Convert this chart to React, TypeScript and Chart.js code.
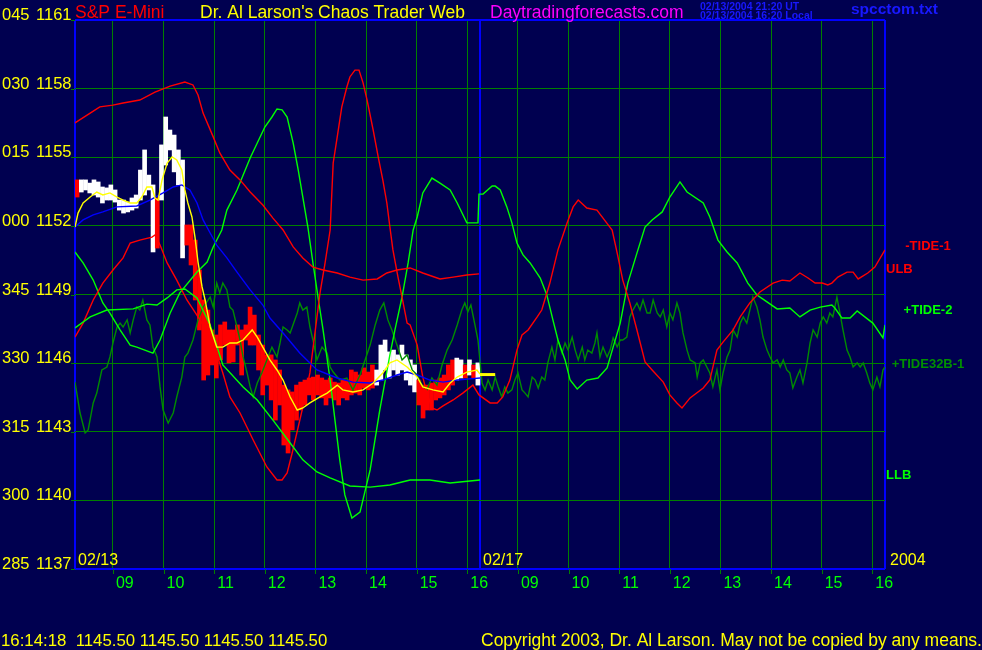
import React, { useEffect, useRef } from "react";
import { Chart, registerables } from "chart.js";

Chart.register(...registerables);

// ---------- axes ----------
const priceTicks = [1137, 1140, 1143, 1146, 1149, 1152, 1155, 1158, 1161];
const degreeLabels = ["285", "300", "315", "330", "345", "000", "015", "030", "045"];
// hours since 08:15 (day 1: 0-8, day 2: 8-16)
const xGridHours = [0, 0.75, 1.75, 2.75, 3.75, 4.75, 5.75, 6.75, 7.75, 8, 8.75, 9.75, 10.75, 11.75, 12.75, 13.75, 14.75, 15.75, 16];
const hourLabelPos = [0.75, 1.75, 2.75, 3.75, 4.75, 5.75, 6.75, 7.75, 8.75, 9.75, 10.75, 11.75, 12.75, 13.75, 14.75, 15.75];
const hourLabels = ["09", "10", "11", "12", "13", "14", "15", "16", "09", "10", "11", "12", "13", "14", "15", "16"];
const dayLabels = ["02/13", "02/17"];
const dayStart = [0, 8];
const yearLabel = "2004";

// ---------- price bars (5-minute, day 1) ----------
const barMinutes = 5;
const barLow = [
  1153.26, 1153.48, 1153.57, 1153.44, 1153.35, 1153.26, 1153.0, 1153.13, 1153.13, 1153.04,
  1152.69, 1152.56, 1152.61, 1152.69, 1152.78, 1153.13, 1153.35, 1153.57, 1150.86, 1151.03,
  1153.13, 1154.66, 1155.32, 1154.36, 1153.79, 1150.6, 1151.16, 1150.29, 1148.76, 1147.45,
  1145.26, 1145.48, 1145.92, 1145.35, 1146.14, 1146.79, 1146.01, 1146.05, 1146.79, 1145.48,
  1147.01, 1146.79, 1146.79, 1145.7, 1144.61, 1145.04, 1144.39, 1143.51, 1144.17, 1142.42,
  1142.07, 1143.08, 1143.51, 1143.95, 1144.17, 1144.61, 1144.39, 1144.61, 1144.48, 1144.17,
  1144.48, 1144.39, 1144.17, 1144.48, 1144.39, 1144.61, 1144.69, 1144.61, 1144.91, 1144.83,
  1144.91, 1145.04, 1145.26, 1145.7, 1145.35, 1145.7, 1145.48, 1145.7, 1145.26, 1145.04,
  1144.74, 1144.17, 1143.6, 1143.95, 1143.95, 1144.39, 1144.48, 1144.61, 1144.83, 1145.04,
  1145.26, 1145.35, 1145.35, 1145.48, 1145.35, 1145.04,
];
const barHigh = [
  1154.01, 1154.01, 1154.01, 1153.87, 1154.01, 1153.92, 1153.7, 1153.66, 1153.79, 1153.57,
  1153.13, 1153.13, 1153.04, 1153.22, 1153.35, 1154.44, 1155.32, 1154.22, 1153.79, 1153.22,
  1155.54, 1156.76, 1156.19, 1155.97, 1155.32, 1154.88, 1152.04, 1152.04, 1151.38, 1150.07,
  1148.76, 1148.32, 1147.45, 1147.23, 1147.67, 1147.8, 1147.45, 1147.45, 1147.67, 1147.45,
  1147.67, 1148.45, 1148.1, 1147.23, 1146.79, 1146.36, 1146.36, 1146.14, 1145.7, 1145.04,
  1144.83, 1144.74, 1145.04, 1145.17, 1145.26, 1145.35, 1145.39, 1145.48, 1145.35, 1145.26,
  1145.35, 1145.17, 1145.13, 1145.26, 1145.26, 1145.7, 1145.61, 1145.48, 1145.79, 1145.61,
  1145.92, 1145.7, 1146.79, 1147.01, 1146.49, 1146.57, 1146.36, 1146.79, 1146.36, 1146.14,
  1145.92, 1145.26, 1145.04, 1145.04, 1145.13, 1145.26, 1145.35, 1145.48, 1145.92, 1146.14,
  1146.22, 1146.14, 1145.92, 1146.14, 1145.92, 1146.01,
];
// 1 = up bar (white), 0 = down bar (red)
const barUp = [
  0, 1, 1, 1, 1, 1, 1, 1, 1, 1,
  1, 1, 1, 1, 1, 1, 1, 1, 1, 0,
  1, 1, 1, 1, 1, 1, 0, 0, 0, 0,
  0, 0, 0, 0, 0, 0, 0, 0, 0, 0,
  0, 0, 0, 0, 0, 0, 0, 0, 0, 0,
  0, 0, 0, 0, 0, 0, 0, 0, 0, 0,
  0, 0, 0, 0, 0, 0, 0, 0, 0, 0,
  0, 1, 1, 1, 1, 1, 1, 1, 1, 1,
  1, 0, 0, 0, 0, 0, 0, 0, 0, 0,
  1, 1, 0, 1, 0, 1,
];

// ---------- yellow (fast average) ----------
const fastHours = [0, 0.06, 0.16, 0.3, 0.43, 0.55, 0.69, 0.83, 0.95, 1.09, 1.22, 1.32, 1.42, 1.52, 1.58, 1.64, 1.72, 1.82, 1.92, 2.01, 2.11, 2.17, 2.23, 2.31, 2.37, 2.43, 2.51, 2.57, 2.67, 2.8, 2.92, 3.06, 3.2, 3.32, 3.5, 3.6, 3.71, 3.85, 3.99, 4.11, 4.25, 4.39, 4.5, 4.64, 4.84, 4.98, 5.18, 5.29, 5.49, 5.69, 5.89, 6.08, 6.22, 6.36, 6.56, 6.76, 6.87, 7.07, 7.27, 7.41, 7.55, 7.74, 7.94, 8.0];
const fastValues = [1151.95, 1152.56, 1153.0, 1153.26, 1153.48, 1153.35, 1153.44, 1153.26, 1153.13, 1153.0, 1153.0, 1153.26, 1153.7, 1153.7, 1153.22, 1153.13, 1154.01, 1154.75, 1155.01, 1154.88, 1154.44, 1153.57, 1153.0, 1152.39, 1151.51, 1150.42, 1149.33, 1148.76, 1147.58, 1146.7, 1146.7, 1146.88, 1146.88, 1147.01, 1147.45, 1147.14, 1146.7, 1146.14, 1145.7, 1145.26, 1144.52, 1143.95, 1144.04, 1144.26, 1144.52, 1144.69, 1145.04, 1144.83, 1144.74, 1144.83, 1145.13, 1145.57, 1146.01, 1146.14, 1145.83, 1145.39, 1144.96, 1144.83, 1144.74, 1145.13, 1145.39, 1145.61, 1145.7, 1145.52];
const lastPrice = 1145.5;
const lastPriceHours = [8.0, 8.3];

// ---------- blue (slow average) ----------
const slowHours = [0, 0.16, 0.36, 0.55, 0.83, 1.22, 1.48, 1.74, 1.94, 2.11, 2.27, 2.41, 2.53, 2.67, 2.8, 3.0, 3.2, 3.46, 3.71, 3.85, 4.11, 4.44, 4.78, 5.18, 5.49, 5.83, 6.08, 6.36, 6.56, 6.76, 7.01, 7.27, 7.55, 7.8, 8.0];
const slowValues = [1151.95, 1152.26, 1152.48, 1152.61, 1152.83, 1152.87, 1153.13, 1153.44, 1153.7, 1153.79, 1153.57, 1153.0, 1152.26, 1151.69, 1151.16, 1150.6, 1149.98, 1149.2, 1148.54, 1147.97, 1147.32, 1146.44, 1145.7, 1145.35, 1145.17, 1145.13, 1145.26, 1145.48, 1145.61, 1145.48, 1145.26, 1145.17, 1145.26, 1145.31, 1145.35];

// ---------- ULB (red upper band, day 1) ----------
const ulbHours = [0, 0.3, 0.49, 0.75, 0.95, 1.28, 1.58, 1.88, 2.17, 2.33, 2.43, 2.53, 2.73, 2.86, 3.06, 3.26, 3.46, 3.71, 3.91, 4.11, 4.31, 4.5, 4.7, 4.9, 5.18, 5.43, 5.69, 5.97, 6.16, 6.36, 6.62, 6.87, 7.21, 7.47, 7.74, 7.98];
const ulbValues = [1156.5, 1156.93, 1157.2, 1157.28, 1157.37, 1157.5, 1157.85, 1158.11, 1158.29, 1158.16, 1157.72, 1156.93, 1155.89, 1155.19, 1154.44, 1154.01, 1153.48, 1152.91, 1152.34, 1151.82, 1151.08, 1150.6, 1150.2, 1150.07, 1149.94, 1149.76, 1149.63, 1149.68, 1149.94, 1150.07, 1150.16, 1149.94, 1149.68, 1149.76, 1149.85, 1149.9];

// ---------- LLB (green lower band, day 1) ----------
const llbHours = [0, 0.3, 0.63, 1.15, 1.42, 1.62, 1.82, 2.01, 2.17, 2.41, 2.67, 2.92, 3.32, 3.6, 3.91, 4.25, 4.5, 4.78, 5.04, 5.43, 5.83, 6.22, 6.62, 7.01, 7.41, 7.8, 8.0];
const llbValues = [1147.54, 1148.02, 1148.32, 1148.37, 1148.58, 1148.54, 1148.85, 1149.2, 1149.24, 1148.85, 1147.67, 1145.92, 1144.96, 1144.39, 1143.51, 1142.51, 1141.77, 1141.24, 1140.98, 1140.63, 1140.58, 1140.67, 1140.89, 1140.89, 1140.76, 1140.85, 1140.89];

// ---------- -TIDE-1 (red) ----------
const tide1Hours = [0, 0.16, 0.36, 0.55, 0.75, 0.95, 1.09, 1.28, 1.52, 1.58, 1.68, 1.82, 2.01, 2.21, 2.47, 2.73, 2.92, 3.06, 3.26, 3.52, 3.79, 3.99, 4.09, 4.19, 4.29, 4.5, 4.64, 4.74, 4.84, 4.94, 5.04, 5.1, 5.18, 5.27, 5.37, 5.43, 5.53, 5.61, 5.69, 5.77, 5.89, 5.99, 6.08, 6.16, 6.22, 6.28, 6.38, 6.46, 6.56, 6.62, 6.76, 6.81, 6.87, 6.95, 7.05, 7.15, 7.27, 7.47, 7.66, 7.86, 7.98, 8.2, 8.34, 8.45, 8.59, 8.73, 8.83, 8.95, 9.13, 9.22, 9.38, 9.54, 9.72, 9.84, 9.94, 10.11, 10.31, 10.43, 10.61, 10.71, 10.82, 10.96, 11.1, 11.26, 11.4, 11.62, 11.75, 11.89, 11.99, 12.15, 12.41, 12.54, 12.68, 12.8, 13.0, 13.14, 13.33, 13.53, 13.79, 13.97, 14.12, 14.32, 14.48, 14.62, 14.76, 14.87, 14.95, 15.07, 15.25, 15.37, 15.47, 15.66, 15.8, 16.0];
const tide1Values = [1147.14, 1147.75, 1148.76, 1149.5, 1150.07, 1150.6, 1151.25, 1151.38, 1151.51, 1151.6, 1151.16, 1150.38, 1149.63, 1148.76, 1147.89, 1146.88, 1145.57, 1144.52, 1143.82, 1142.64, 1141.46, 1140.89, 1140.89, 1141.2, 1142.07, 1144.08, 1145.57, 1147.32, 1149.07, 1150.38, 1151.82, 1154.75, 1155.89, 1157.2, 1158.07, 1158.51, 1158.81, 1158.81, 1158.25, 1157.5, 1156.19, 1155.01, 1154.01, 1153.0, 1151.95, 1150.95, 1149.76, 1148.89, 1147.75, 1147.67, 1146.79, 1146.14, 1145.39, 1144.69, 1144.04, 1143.95, 1144.13, 1144.39, 1144.69, 1145.04, 1144.61, 1144.26, 1144.26, 1144.52, 1145.26, 1146.57, 1147.23, 1147.45, 1148.02, 1148.32, 1149.5, 1150.95, 1152.13, 1152.83, 1153.13, 1152.78, 1152.69, 1152.34, 1151.82, 1150.81, 1149.63, 1148.63, 1147.45, 1146.05, 1145.7, 1145.17, 1144.61, 1144.26, 1144.04, 1144.48, 1144.91, 1145.26, 1146.57, 1146.92, 1147.45, 1148.02, 1148.63, 1149.11, 1149.5, 1149.63, 1149.59, 1149.94, 1149.72, 1149.5, 1149.5, 1149.42, 1149.5, 1149.76, 1149.98, 1149.98, 1149.68, 1149.94, 1150.2, 1150.95];

// ---------- +TIDE-2 (bright green) ----------
const tide2Hours = [0, 0.16, 0.36, 0.55, 0.69, 0.89, 1.09, 1.22, 1.54, 1.68, 1.88, 2.07, 2.41, 2.61, 2.73, 2.9, 3.0, 3.2, 3.46, 3.6, 3.75, 3.89, 3.99, 4.09, 4.19, 4.31, 4.41, 4.5, 4.6, 4.7, 4.8, 4.9, 5.04, 5.23, 5.33, 5.47, 5.63, 5.83, 6.02, 6.22, 6.32, 6.46, 6.58, 6.68, 6.76, 6.87, 7.05, 7.21, 7.41, 7.55, 7.74, 7.96, 7.98, 8.06, 8.24, 8.3, 8.4, 8.53, 8.63, 8.73, 8.85, 8.99, 9.19, 9.32, 9.44, 9.54, 9.68, 9.78, 9.92, 10.11, 10.33, 10.51, 10.63, 10.77, 10.92, 11.1, 11.26, 11.4, 11.6, 11.75, 11.95, 12.09, 12.41, 12.54, 12.7, 12.88, 13.08, 13.29, 13.47, 13.59, 13.87, 14.12, 14.32, 14.52, 14.72, 14.95, 15.01, 15.15, 15.31, 15.45, 15.76, 15.96, 16.0];
const tide2Values = [1150.86, 1150.38, 1149.63, 1148.63, 1148.19, 1147.45, 1146.79, 1146.7, 1146.44, 1147.01, 1148.19, 1149.07, 1149.98, 1150.42, 1151.08, 1151.82, 1152.69, 1153.57, 1154.97, 1155.62, 1156.32, 1156.76, 1157.11, 1157.07, 1156.76, 1155.62, 1154.44, 1153.26, 1151.95, 1150.38, 1148.89, 1147.45, 1145.26, 1141.77, 1140.24, 1139.23, 1139.49, 1141.33, 1143.95, 1146.36, 1147.45, 1148.89, 1150.38, 1151.82, 1152.39, 1153.44, 1154.09, 1153.87, 1153.57, 1153.0, 1152.13, 1152.13, 1153.39, 1153.39, 1153.74, 1153.74, 1153.57, 1152.83, 1152.13, 1151.25, 1150.73, 1150.38, 1149.72, 1148.98, 1147.89, 1147.01, 1146.14, 1145.26, 1144.87, 1145.26, 1145.35, 1145.79, 1146.7, 1147.75, 1149.5, 1150.81, 1151.95, 1152.26, 1152.61, 1153.26, 1153.92, 1153.48, 1153.0, 1152.39, 1151.38, 1150.86, 1150.38, 1149.5, 1148.98, 1148.8, 1148.37, 1148.41, 1148.02, 1148.32, 1148.45, 1148.54, 1148.41, 1147.97, 1147.97, 1148.28, 1147.75, 1147.1, 1147.67];

// ---------- +TIDE32B-1 (dark green) ----------
const tide32Hours = [0, 0.1, 0.2, 0.26, 0.36, 0.43, 0.53, 0.63, 0.69, 0.75, 0.83, 0.89, 0.95, 1.03, 1.09, 1.15, 1.22, 1.28, 1.34, 1.42, 1.48, 1.54, 1.62, 1.68, 1.74, 1.84, 1.94, 2.01, 2.11, 2.17, 2.23, 2.33, 2.43, 2.53, 2.67, 2.73, 2.8, 2.86, 2.92, 3.0, 3.06, 3.12, 3.2, 3.26, 3.32, 3.4, 3.46, 3.52, 3.6, 3.69, 3.79, 3.89, 3.99, 4.05, 4.11, 4.19, 4.25, 4.39, 4.44, 4.5, 4.58, 4.64, 4.7, 4.78, 4.88, 4.98, 5.04, 5.1, 5.23, 5.37, 5.49, 5.63, 5.73, 5.83, 5.93, 6.02, 6.1, 6.18, 6.26, 6.36, 6.46, 6.56, 6.66, 6.76, 6.85, 6.95, 7.05, 7.15, 7.25, 7.35, 7.45, 7.55, 7.64, 7.7, 7.76, 7.82, 7.9, 7.96,
  8.04, 8.1, 8.16, 8.24, 8.3, 8.36, 8.43, 8.49, 8.55, 8.63, 8.69, 8.75, 8.83, 8.89, 8.95, 9.03, 9.09, 9.15, 9.22, 9.28, 9.34, 9.42, 9.48, 9.54, 9.62, 9.68, 9.74, 9.82, 9.88, 9.94, 10.02, 10.07, 10.13, 10.21, 10.27, 10.31, 10.37, 10.43, 10.51, 10.57, 10.63, 10.71, 10.77, 10.82, 10.9, 10.96, 11.02, 11.1, 11.16, 11.22, 11.3, 11.36, 11.42, 11.5, 11.56, 11.62, 11.69, 11.75, 11.81, 11.89, 11.95, 12.01, 12.09, 12.15, 12.25, 12.29, 12.35, 12.41, 12.48, 12.54, 12.6, 12.68, 12.74, 12.8, 12.88, 12.94, 13.0, 13.08, 13.14, 13.2, 13.27, 13.33, 13.39, 13.47, 13.53, 13.59, 13.67, 13.73, 13.79, 13.87, 13.93, 13.99, 14.06, 14.12, 14.18, 14.26, 14.32, 14.38, 14.46, 14.52, 14.58, 14.66, 14.72, 14.78, 14.85, 14.91, 14.97, 15.05, 15.11, 15.17, 15.25, 15.31, 15.37, 15.45, 15.51, 15.57, 15.64, 15.7, 15.76, 15.84, 15.9, 15.96, 16.0];
const tide32Values = [1145.17, 1143.82, 1142.95, 1143.08, 1144.26, 1144.69, 1145.7, 1145.83, 1146.27, 1146.88, 1147.58, 1147.75, 1147.58, 1147.89, 1147.32, 1147.89, 1148.45, 1148.32, 1148.76, 1147.89, 1147.67, 1146.7, 1146.27, 1144.96, 1143.95, 1143.38, 1143.82, 1144.52, 1145.39, 1146.27, 1146.44, 1147.01, 1147.89, 1148.45, 1148.89, 1148.45, 1149.5, 1149.07, 1149.5, 1149.2, 1148.45, 1148.32, 1147.58, 1147.01, 1146.27, 1145.57, 1144.96, 1144.52, 1145.13, 1145.57, 1146.14, 1146.7, 1146.27, 1146.88, 1147.58, 1147.45, 1147.32, 1148.19, 1148.63, 1148.32, 1148.45, 1147.58, 1147.01, 1146.14, 1146.7, 1146.44, 1145.83, 1145.61, 1145.26, 1145.35, 1144.83, 1145.48, 1146.14, 1146.79, 1147.67, 1148.32, 1148.63, 1147.89, 1147.45, 1146.79, 1146.14, 1146.36, 1145.7, 1145.48, 1145.04, 1144.83, 1145.35, 1145.04, 1145.92, 1146.57, 1147.01, 1147.67, 1148.32, 1148.63, 1148.24, 1148.54, 1147.67, 1147.01,
  1145.13, 1144.83, 1145.26, 1144.83, 1145.39, 1144.96, 1144.52, 1144.96, 1144.69, 1144.83, 1145.26, 1145.57, 1144.83, 1144.69, 1144.52, 1145.39, 1145.26, 1144.91, 1145.39, 1145.26, 1146.01, 1146.7, 1146.14, 1147.01, 1146.44, 1146.88, 1146.57, 1147.14, 1146.57, 1146.14, 1146.7, 1146.14, 1146.57, 1146.44, 1146.88, 1147.32, 1146.27, 1146.7, 1146.27, 1146.57, 1147.1, 1146.7, 1147.01, 1147.01, 1147.14, 1148.02, 1148.32, 1148.63, 1148.32, 1148.76, 1148.19, 1148.19, 1148.76, 1148.19, 1148.02, 1148.32, 1147.58, 1148.19, 1147.89, 1148.63, 1148.19, 1147.32, 1146.57, 1146.14, 1146.01, 1145.39, 1146.01, 1146.14, 1145.83, 1145.57, 1144.96, 1145.7, 1144.83, 1145.57, 1146.27, 1146.57, 1147.45, 1147.14, 1147.75, 1148.02, 1147.75, 1148.32, 1148.89, 1148.45, 1147.89, 1147.14, 1146.57, 1146.27, 1146.01, 1146.14, 1145.83, 1146.14, 1145.7, 1145.57, 1144.91, 1145.39, 1145.7, 1145.13, 1146.01, 1146.88, 1147.45, 1147.14, 1147.75, 1148.02, 1147.75, 1148.19, 1148.02, 1148.89, 1148.19, 1147.45, 1146.57, 1146.27, 1145.83, 1146.01, 1145.83, 1146.01, 1145.57, 1145.13, 1144.83, 1145.39, 1144.96, 1145.7, 1145.83];

// ---------- texts ----------
const titleParts = [
  { text: "S&P E-Mini", color: "#ff0000", x: 75 },
  { text: "Dr. Al Larson's Chaos Trader Web", color: "#ffff00", x: 200 },
  { text: "Daytradingforecasts.com", color: "#ff00ff", x: 490 },
];
const stampLines = ["02/13/2004 21:20 UT", "02/13/2004 16:20 Local"];
const fileName = "spcctom.txt";
const statusLine = "16:14:18  1145.50 1145.50 1145.50 1145.50";
const copyright = "Copyright 2003, Dr. Al Larson. May not be copied by any means.";
const rightLabels = [
  { text: "-TIDE-1", color: "#ff0000", value: 1150.95, centered: true },
  { text: "ULB", color: "#ff0000", value: 1149.94, centered: false },
  { text: "+TIDE-2", color: "#00ff00", value: 1148.15, centered: true },
  { text: "+TIDE32B-1", color: "#009000", value: 1145.79, centered: true },
  { text: "LLB", color: "#00ff00", value: 1140.93, centered: false },
];

const BG = "#000050";
const BLUE = "#0000ff";
const GRID = "#008000";
const FONT = "'Liberation Sans', Arial, sans-serif";

function pts(xs: number[], ys: number[]) {
  return xs.map((x, i) => ({ x, y: ys[i] }));
}

const textPlugin = {
  id: "chaosTexts",
  afterDraw(chart: any) {
    const { ctx, chartArea, scales } = chart;
    const xs = scales.x;
    const ys = scales.y;
    ctx.save();
    ctx.textBaseline = "alphabetic";
    ctx.textAlign = "left";

    // header
    ctx.font = `17.5px ${FONT}`;
    titleParts.forEach((t) => {
      ctx.fillStyle = t.color;
      ctx.fillText(t.text, t.x, 17.5);
    });
    ctx.font = `bold 10.5px ${FONT}`;
    ctx.fillStyle = "#1818ff";
    ctx.fillText(stampLines[0], 700, 9.5);
    ctx.fillText(stampLines[1], 700, 19);
    ctx.font = `bold 15.5px ${FONT}`;
    ctx.fillText(fileName, 851, 14);

    // left price labels + ticks
    ctx.font = `16.5px ${FONT}`;
    priceTicks.forEach((p, i) => {
      const y = ys.getPixelForValue(p);
      ctx.fillStyle = "#ffff00";
      ctx.fillText(degreeLabels[i], 2, y);
      ctx.fillText(String(p), 36, y);
      ctx.strokeStyle = GRID;
      ctx.lineWidth = 1;
      ctx.beginPath();
      ctx.moveTo(71, Math.round(y) + 0.5);
      ctx.lineTo(chartArea.left, Math.round(y) + 0.5);
      ctx.stroke();
    });

    // hour labels + ticks
    ctx.font = `16px ${FONT}`;
    hourLabelPos.forEach((h, i) => {
      const x = xs.getPixelForValue(h);
      ctx.strokeStyle = GRID;
      ctx.beginPath();
      ctx.moveTo(Math.round(x) + 0.5, chartArea.bottom);
      ctx.lineTo(Math.round(x) + 0.5, chartArea.bottom + 5);
      ctx.stroke();
      ctx.fillStyle = "#00ff00";
      ctx.fillText(hourLabels[i], x + 3, chartArea.bottom + 19);
    });

    // date labels
    ctx.fillStyle = "#ffff00";
    dayLabels.forEach((d, i) => {
      ctx.fillText(d, xs.getPixelForValue(dayStart[i]) + 3, chartArea.bottom - 4);
    });
    ctx.fillText(yearLabel, chartArea.right + 5, chartArea.bottom - 4);

    // right series labels
    ctx.font = `bold 13px ${FONT}`;
    rightLabels.forEach((l) => {
      ctx.fillStyle = l.color;
      const y = ys.getPixelForValue(l.value);
      if (l.centered) {
        ctx.textAlign = "center";
        ctx.fillText(l.text, chartArea.right + 43, y);
      } else {
        ctx.textAlign = "left";
        ctx.fillText(l.text, chartArea.right + 1, y);
      }
    });
    ctx.textAlign = "left";

    // footer
    ctx.fillStyle = "#ffff00";
    ctx.font = `16.8px ${FONT}`;
    ctx.fillText(statusLine, 1, 646);
    ctx.font = `17.5px ${FONT}`;
    ctx.fillText(copyright, 481, 646);
    ctx.restore();
  },
};

export default function App() {
  const ref = useRef<HTMLCanvasElement | null>(null);

  useEffect(() => {
    document.body.style.margin = "0";
    document.body.style.background = BG;
    const canvas = ref.current;
    if (!canvas) return;

    const barData = barLow.map((lo, i) => ({
      x: ((i + 0.5) * barMinutes) / 60,
      y: [lo, barHigh[i]],
    }));
    const barColors = barUp.map((u) => (u ? "#ffffff" : "#ff0000"));

    const line = (label: string, data: any[], color: string, order: number, width = 1.4) => ({
      type: "line" as const,
      label,
      data,
      borderColor: color,
      backgroundColor: color,
      borderWidth: width,
      pointRadius: 0,
      tension: 0,
      fill: false,
      order,
    });

    const isBlueX = (c: any) => c.tick && [0, 8, 16].includes(c.tick.value);
    const isBlueY = (c: any) => c.tick && (c.tick.value === 1137 || c.tick.value === 1161);

    const chart = new Chart(canvas, {
      type: "bar",
      data: {
        datasets: [
          {
            type: "bar",
            label: "S&P E-Mini",
            data: barData as any,
            backgroundColor: barColors,
            borderWidth: 0,
            barThickness: 4,
            order: 20,
          } as any,
          line("+TIDE32B-1", pts(tide32Hours, tide32Values), "#008c00", 19),
          line("+TIDE-2", pts(tide2Hours, tide2Values), "#00ff00", 18),
          line("-TIDE-1", pts(tide1Hours, tide1Values), "#ff0000", 17),
          line("ULB", pts(ulbHours, ulbValues), "#ff0000", 16),
          line("LLB", pts(llbHours, llbValues), "#00ff00", 15),
          line("Slow", pts(slowHours, slowValues), "#0000ff", 4),
          line("Fast", pts(fastHours, fastValues), "#ffff00", 3),
          line("Last", lastPriceHours.map((h) => ({ x: h, y: lastPrice })), "#ffff00", 2, 3),
        ],
      },
      options: {
        animation: false,
        responsive: false,
        maintainAspectRatio: false,
        events: [],
        layout: { padding: { left: 75, top: 20, right: 97, bottom: 81 } },
        plugins: { legend: { display: false }, tooltip: { enabled: false } },
        scales: {
          x: {
            type: "linear",
            min: 0,
            max: 16,
            offset: false,
            afterBuildTicks: (s: any) => {
              s.ticks = xGridHours.map((v) => ({ value: v }));
            },
            ticks: { display: false },
            border: { display: false },
            grid: {
              offset: false,
              drawTicks: false,
              color: (c: any) => (isBlueX(c) ? BLUE : GRID),
              lineWidth: (c: any) => (isBlueX(c) ? 2 : 1),
            },
          },
          y: {
            type: "linear",
            min: 1137,
            max: 1161,
            afterBuildTicks: (s: any) => {
              s.ticks = priceTicks.map((v) => ({ value: v }));
            },
            ticks: { display: false },
            border: { display: false },
            grid: {
              drawTicks: false,
              color: (c: any) => (isBlueY(c) ? BLUE : GRID),
              lineWidth: (c: any) => (isBlueY(c) ? 2 : 1),
            },
          },
        },
      } as any,
      plugins: [textPlugin],
    });
    return () => chart.destroy();
  }, []);

  return (
    <div style={{ position: "absolute", left: 0, top: 0, width: 982, height: 650, background: BG }}>
      <canvas ref={ref} width={982} height={650} style={{ display: "block", width: 982, height: 650 }} />
    </div>
  );
}
